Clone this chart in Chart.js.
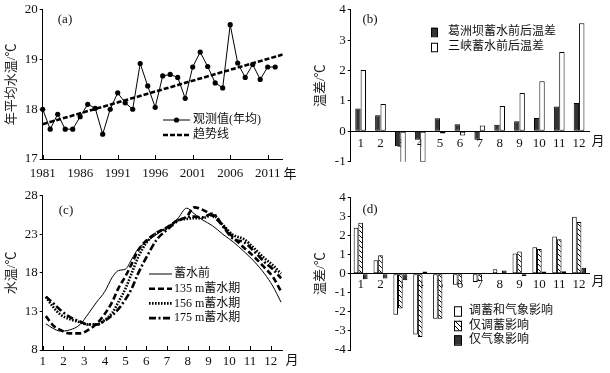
<!DOCTYPE html>
<html>
<head>
<meta charset="utf-8">
<script src="https://cdn.jsdelivr.net/npm/chart.js@4.4.1/dist/chart.umd.min.js"></script>
<style>
  body { margin: 0; background: #fff; width: 610px; height: 373px; position: relative; overflow: hidden; }
  canvas { position: absolute; }
</style>
</head>
<body>
<canvas id="ca" width="305" height="186" style="left:0;top:0"></canvas>
<canvas id="cb" width="305" height="186" style="left:305px;top:0"></canvas>
<canvas id="cc" width="305" height="187" style="left:0;top:186px"></canvas>
<canvas id="cd" width="305" height="187" style="left:305px;top:186px"></canvas>
<script>
// (a) 年平均水温
const years = [1981, 1982, 1983, 1984, 1985, 1986, 1987, 1988, 1989, 1990, 1991, 1992, 1993, 1994, 1995, 1996,
               1997, 1998, 1999, 2000, 2001, 2002, 2003, 2004, 2005, 2006, 2007, 2008, 2009, 2010, 2011, 2012];
const annualTemp = [18.0, 17.6, 17.9, 17.6, 17.6, 17.85, 18.1, 18.02, 17.5, 18.0, 18.33, 18.13, 18.0, 18.92, 18.47, 18.04,
                    18.67, 18.7, 18.64, 18.22, 18.85, 19.15, 18.86, 18.53, 18.43, 19.7, 18.93, 18.64, 18.9, 18.6, 18.85, 18.85];
const trendYears = [1981, 2013];
const trendTemp = [17.7, 19.1];
const yearTicks = [1981, 1986, 1991, 1996, 2001, 2006, 2011];
const legendA = ['观测值(年均)', '趋势线'];

// (b) 蓄水前后温差
const months = ['1', '2', '3', '4', '5', '6', '7', '8', '9', '10', '11', '12'];
const gezhoubaDiff = [0.75, 0.53, -0.49, -0.28, 0.43, 0.23, -0.28, 0.22, 0.33, 0.44, 0.82, 0.93];
const sanxiaDiff = [2.02, 0.9, -1.05, -1.02, -0.07, -0.14, 0.19, 0.83, 1.26, 1.65, 2.61, 3.56];
const legendB = ['葛洲坝蓄水前后温差', '三峡蓄水前后温差'];

// (c) 逐日水温过程 (月份位置)
const seasonPos = [1.15, 1.5, 1.85, 2.3, 2.8, 3.2, 3.6, 4.0, 4.35, 4.65, 5.0, 5.3, 5.6, 6.0,
                   6.5, 7.0, 7.5, 7.95, 8.3, 8.7, 9.2, 9.7, 10.2, 10.7, 11.2, 11.7, 12.1, 12.5];
const tempBefore = [11.4, 10.8, 10.45, 10.6, 11.3, 12.7, 14.2, 15.6, 17.4, 18.3, 18.5, 19.8, 21.1, 22.0,
                    23.0, 23.9, 25.0, 26.4, 25.7, 24.9, 24.1, 23.0, 22.0, 20.8, 19.5, 17.9, 16.3, 14.2];
const temp135 = [12.4, 11.2, 10.6, 10.15, 10.15, 10.6, 11.4, 12.7, 14.2, 16.0, 17.6, 19.2, 20.9, 22.2,
                 23.2, 23.9, 24.8, 25.3, 26.5, 26.2, 25.4, 24.1, 22.6, 21.3, 20.1, 18.7, 17.5, 15.6];
const temp156 = [14.9, 13.6, 12.6, 12.0, 11.6, 11.3, 11.3, 11.9, 12.8, 14.2, 16.0, 18.0, 20.0, 21.9,
                 23.2, 23.8, 24.8, 25.0, 25.1, 25.1, 25.5, 24.2, 22.9, 22.4, 21.2, 19.9, 19.0, 17.9];
const temp175 = [14.9, 14.1, 13.2, 12.3, 11.7, 11.3, 11.3, 11.8, 12.5, 13.3, 14.6, 16.0, 17.9, 20.0,
                 22.3, 23.6, 24.7, 25.2, 25.3, 25.2, 25.7, 24.0, 22.4, 22.0, 20.8, 19.4, 18.5, 17.3];
const monthTicks = [1, 2, 3, 4, 5, 6, 7, 8, 9, 10, 11, 12];
const tempTicks = [8, 13, 18, 23, 28];
const legendC = ['蓄水前', '135 m蓄水期', '156 m蓄水期', '175 m蓄水期'];

// (d) 影响分解
const bothEffect = [2.41, 0.70, -2.15, -3.19, -2.36, -0.58, -0.44, 0.23, 1.06, 1.38, 1.95, 2.98];
const regulationEffect = [2.67, 0.96, -1.83, -3.32, -2.36, -0.55, -0.40, 0.04, 1.16, 1.29, 1.80, 2.70];
const weatherEffect = [-0.29, -0.25, -0.35, 0.11, -0.02, 0.02, 0.05, 0.17, -0.12, 0.11, 0.13, 0.31];
const legendD = ['调蓄和气象影响', '仅调蓄影响', '仅气象影响'];

const FONT = '"Liberation Serif", "Noto Sans CJK SC", serif';
Chart.defaults.font.family = FONT;
Chart.defaults.font.size = 13;
Chart.defaults.color = '#111';
Chart.defaults.animation = false;

function setTicks(list) {
    return s => { s.ticks = list.map(v => ({ value: v })); };
}

function yAxis(title, titlePad, width, min, max, ticks) {
    return {
        min: min, max: max,
        border: { display: true, color: '#000', width: 1 },
        grid: { display: true, drawOnChartArea: false, tickLength: 3, color: '#000' },
        ticks: { padding: 2, color: '#111' },
        title: { display: true, text: title, color: '#222',
                 font: { size: 13, lineHeight: 1.2 }, padding: { top: titlePad, bottom: 0 } },
        afterBuildTicks: ticks ? setTicks(ticks) : undefined,
        afterFit: s => { s.width = width; }
    };
}

// 图内文字、向内刻度和图例
function notes(cfg) {
    return {
        id: 'notes',
        afterDraw(chart) {
            const ctx = chart.ctx;
            const area = chart.chartArea;
            ctx.save();
            if (cfg.innerTicks) {
                const sx = chart.scales.x;
                ctx.strokeStyle = '#000';
                ctx.lineWidth = 1;
                cfg.innerTicks.forEach(v => {
                    const px = Math.round(sx.getPixelForValue(v)) + 0.5;
                    ctx.beginPath();
                    ctx.moveTo(px, area.bottom);
                    ctx.lineTo(px, area.bottom - 4);
                    ctx.stroke();
                });
            }
            ctx.fillStyle = '#111';
            ctx.textAlign = 'center';
            ctx.textBaseline = 'middle';
            cfg.texts.forEach(t => {
                ctx.font = (t.size || 13) + 'px ' + FONT;
                ctx.fillText(t.text, t.x, t.y);
            });
            const lg = cfg.legend;
            chart.data.datasets.forEach((ds, i) => {
                const y = lg.y + i * lg.gap;
                if (lg.kind === 'line') {
                    ctx.strokeStyle = ds.borderColor;
                    ctx.lineWidth = ds.borderWidth;
                    ctx.setLineDash(ds.borderDash || []);
                    ctx.beginPath();
                    ctx.moveTo(lg.x, y);
                    ctx.lineTo(lg.x + lg.len, y);
                    ctx.stroke();
                    ctx.setLineDash([]);
                    if (ds.pointRadius) {
                        ctx.fillStyle = ds.pointBackgroundColor;
                        ctx.beginPath();
                        ctx.arc(lg.x + lg.len / 2, y, ds.pointRadius, 0, Math.PI * 2);
                        ctx.fill();
                    }
                } else {
                    ctx.fillStyle = ds.backgroundColor;
                    ctx.fillRect(lg.x, y - lg.h / 2, lg.w, lg.h);
                    ctx.strokeStyle = '#000';
                    ctx.lineWidth = 1;
                    ctx.strokeRect(lg.x + 0.5, y - lg.h / 2 + 0.5, lg.w, lg.h);
                }
                ctx.fillStyle = '#111';
                ctx.textAlign = 'left';
                ctx.font = '12px ' + FONT;
                ctx.fillText(ds.label, lg.textX, y);
            });
            ctx.restore();
        }
    };
}

// 斜线填充
function hatch() {
    const c = document.createElement('canvas');
    c.width = 5; c.height = 5;
    const g = c.getContext('2d');
    g.fillStyle = '#fff';
    g.fillRect(0, 0, 5, 5);
    g.strokeStyle = '#000';
    g.lineWidth = 1;
    g.beginPath();
    g.moveTo(-1, -1); g.lineTo(6, 6);
    g.stroke();
    return g.createPattern(c, 'repeat');
}

// (a)
new Chart(document.getElementById('ca'), {
    type: 'line',
    data: {
        datasets: [{
            label: legendA[0],
            data: years.map((y, i) => ({ x: y, y: annualTemp[i] })),
            borderColor: '#000', borderWidth: 1,
            pointRadius: 2.6, pointBackgroundColor: '#000', pointBorderWidth: 0,
            clip: false
        }, {
            label: legendA[1],
            data: trendYears.map((y, i) => ({ x: y, y: trendTemp[i] })),
            borderColor: '#000', borderWidth: 2.6, borderDash: [5, 2],
            pointRadius: 0
        }]
    },
    options: {
        responsive: false,
        layout: { padding: { top: 9, right: 22.3, left: 0, bottom: 0 } },
        plugins: { legend: { display: false }, tooltip: { enabled: false } },
        scales: {
            x: {
                type: 'linear', min: 1981, max: 2013,
                border: { display: true, color: '#000' },
                grid: { display: false },
                ticks: { padding: -1, callback: v => String(v) },
                afterBuildTicks: setTicks(yearTicks),
                afterFit: s => { s.height = 27; }
            },
            y: yAxis('年平均水温/℃', 4.2, 42.7, 17, 20, [17, 18, 19, 20])
        }
    },
    plugins: [notes({
        innerTicks: yearTicks,
        texts: [{ text: '(a)', x: 65, y: 20 }, { text: '年', x: 290, y: 175 }],
        legend: { kind: 'line', x: 163, y: 120, gap: 15, len: 27, textX: 193 }
    })]
});

// (b)
new Chart(document.getElementById('cb'), {
    type: 'bar',
    data: {
        labels: months,
        datasets: [{
            label: legendB[0], data: gezhoubaDiff,
            backgroundColor: '#333', borderColor: '#000', borderWidth: 1, borderSkipped: false
        }, {
            label: legendB[1], data: sanxiaDiff,
            backgroundColor: '#fff', borderColor: '#000', borderWidth: 1, borderSkipped: false
        }]
    },
    options: {
        responsive: false,
        barPercentage: 1, categoryPercentage: 0.54,
        layout: { padding: { top: 9, right: 21, left: 0, bottom: 24.3 } },
        plugins: { legend: { display: false }, tooltip: { enabled: false } },
        scales: {
            x: {
                position: { y: 0 },
                border: { display: true, color: '#000' },
                grid: { display: false },
                ticks: { padding: -4 },
                afterFit: s => { s.height = 0; }
            },
            y: yAxis('温差/℃', 7.9, 45.7, -1, 4)
        }
    },
    plugins: [notes({
        texts: [{ text: '(b)', x: 65, y: 20 }, { text: '月', x: 293, y: 142 }],
        legend: { kind: 'box', x: 126, y: 32, gap: 15, w: 6, h: 8.5, textX: 143 }
    })]
});

// (c)
function curve(label, values, width, dash) {
    return {
        label: label,
        data: seasonPos.map((m, i) => ({ x: m, y: values[i] })),
        borderColor: '#000', borderWidth: width, borderDash: dash,
        pointRadius: 0, cubicInterpolationMode: 'monotone'
    };
}
new Chart(document.getElementById('cc'), {
    type: 'line',
    data: {
        datasets: [
            curve(legendC[0], tempBefore, 1, []),
            curve(legendC[1], temp135, 2.6, [6, 3]),
            curve(legendC[2], temp156, 2.6, [1.6, 1.4]),
            curve(legendC[3], temp175, 2.6, [7, 2.5, 2, 2.5])
        ]
    },
    options: {
        responsive: false,
        layout: { padding: { top: 9, right: 22.3, left: 0, bottom: 0 } },
        plugins: { legend: { display: false }, tooltip: { enabled: false } },
        scales: {
            x: {
                type: 'linear', min: 1, max: 12.58,
                border: { display: true, color: '#000' },
                grid: { display: false },
                ticks: { padding: -4, callback: v => String(v) },
                afterBuildTicks: setTicks(monthTicks),
                afterFit: s => { s.height = 23; }
            },
            y: yAxis('水温/℃', 4.2, 42.7, 8, 28, tempTicks)
        }
    },
    plugins: [notes({
        innerTicks: monthTicks,
        texts: [{ text: '(c)', x: 66, y: 25 }, { text: '月', x: 292, y: 175 }],
        legend: { kind: 'line', x: 149, y: 88, gap: 14.7, len: 23, textX: 174 }
    })]
});

// (d)
new Chart(document.getElementById('cd'), {
    type: 'bar',
    data: {
        labels: months,
        datasets: [{
            label: legendD[0], data: bothEffect,
            backgroundColor: '#fff', borderColor: '#000', borderWidth: 1, borderSkipped: false
        }, {
            label: legendD[1], data: regulationEffect,
            backgroundColor: hatch(), borderColor: '#000', borderWidth: 1, borderSkipped: false
        }, {
            label: legendD[2], data: weatherEffect,
            backgroundColor: '#333', borderColor: '#000', borderWidth: 1, borderSkipped: false
        }]
    },
    options: {
        responsive: false,
        barPercentage: 1, categoryPercentage: 0.7,
        layout: { padding: { top: 11.3, right: 21, left: 0, bottom: 23 } },
        plugins: { legend: { display: false }, tooltip: { enabled: false } },
        scales: {
            x: {
                position: { y: 0 },
                border: { display: true, color: '#000' },
                grid: { display: false },
                ticks: { padding: -5 },
                afterFit: s => { s.height = 0; }
            },
            y: yAxis('温差/℃', 7.9, 45.7, -4, 4)
        }
    },
    plugins: [notes({
        texts: [{ text: '(d)', x: 65, y: 24 }, { text: '月', x: 293, y: 96 }],
        legend: { kind: 'box', x: 149, y: 125, gap: 14.5, w: 7, h: 9.5, textX: 164 }
    })]
});
</script>
</body>
</html>
